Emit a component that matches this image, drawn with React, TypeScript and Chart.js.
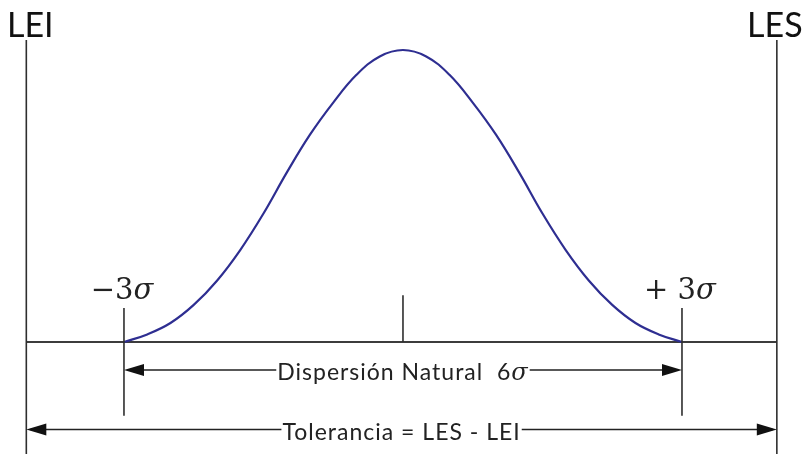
import React, { useEffect, useRef } from 'react';
import { Chart, registerables } from 'chart.js';

Chart.register(...registerables);

// Curve: horizontal position in sigma units, relative height (peak = 1)
const sigmaPositions = [
  -3, -2.75, -2.5, -2.25, -2, -1.75, -1.5, -1.25, -1, -0.75, -0.5, -0.25, 0,
  0.25, 0.5, 0.75, 1, 1.25, 1.5, 1.75, 2, 2.25, 2.5, 2.75, 3,
];
const curveHeights = [
  0, 0.026, 0.065, 0.127, 0.21, 0.315, 0.44, 0.58, 0.71, 0.82, 0.915, 0.978, 1,
  0.978, 0.915, 0.82, 0.71, 0.58, 0.44, 0.315, 0.21, 0.127, 0.065, 0.026, 0,
];

// Specification limits (sigma units)
const limitNames = ['LEI', 'LES'];
const limitPositions = [-4.05, 4.02];

// Sigma marks
const sigmaMarkPositions = [-3, 0, 3];
const sigmaMarkLabels = ['\u22123', '', '+ 3'];
const SIGMA = '\u03c3';

// Dimension labels
const dispersionLabel = 'Dispersi\u00f3n Natural  6';
const toleranceLabel = 'Tolerancia = LES - LEI';

// Vertical levels (relative height units)
const limitTop = 1.034;
const markTop = 0.116;
const markBottom = -0.253;
const centerTop = 0.16;
const dispersionLevel = -0.096;
const toleranceLevel = -0.3;

const SANS = 'Lato, "Open Sans", sans-serif';
const SERIF = '"DejaVu Serif", "Liberation Serif", serif';

const overlayPlugin = {
  id: 'overlay',
  beforeDatasetsDraw(chart: any) {
    const { ctx } = chart;
    const X = (v: number) => chart.scales.x.getPixelForValue(v);
    const Y = (v: number) => chart.scales.y.getPixelForValue(v);
    ctx.save();
    ctx.strokeStyle = '#3c3c3c';
    ctx.lineWidth = 1.8;
    ctx.beginPath();
    ctx.moveTo(X(limitPositions[0]), Y(0));
    ctx.lineTo(X(limitPositions[1]), Y(0));
    ctx.stroke();
    ctx.restore();
  },
  afterDatasetsDraw(chart: any) {
    const { ctx } = chart;
    const X = (v: number) => chart.scales.x.getPixelForValue(v);
    const Y = (v: number) => chart.scales.y.getPixelForValue(v);
    const yMin = chart.scales.y.min;
    ctx.save();
    ctx.strokeStyle = '#2e2e2e';
    ctx.fillStyle = '#111';
    ctx.lineWidth = 1.6;

    const vline = (x: number, y0: number, y1: number) => {
      ctx.beginPath();
      ctx.moveTo(X(x), Y(y0));
      ctx.lineTo(X(x), Y(y1));
      ctx.stroke();
    };

    // Limit lines + labels
    limitPositions.forEach((p, i) => {
      vline(p, yMin, limitTop);
      ctx.font = `34px ${SANS}`;
      ctx.textAlign = 'center';
      ctx.textBaseline = 'alphabetic';
      ctx.fillStyle = '#111';
      ctx.fillText(limitNames[i], X(p) + (i === 0 ? 4 : -2), Y(limitTop) - 3);
    });

    // Sigma marks
    sigmaMarkPositions.forEach((p, i) => {
      if (p === 0) {
        vline(p, 0, centerTop);
      } else {
        vline(p, markBottom, markTop);
      }
      const lbl = sigmaMarkLabels[i];
      if (lbl) {
        ctx.textBaseline = 'alphabetic';
        ctx.textAlign = 'left';
        ctx.font = `29px ${SERIF}`;
        const w1 = ctx.measureText(lbl).width;
        ctx.font = `italic 29px ${SERIF}`;
        const w2 = ctx.measureText(SIGMA).width;
        const cx = X(p) - 2;
        const x0 = cx - (w1 + w2) / 2;
        const by = Y(markTop) - 9;
        ctx.fillStyle = '#222';
        ctx.font = `29px ${SERIF}`;
        ctx.fillText(lbl, x0, by);
        ctx.font = `italic 29px ${SERIF}`;
        ctx.fillText(SIGMA, x0 + w1, by);
      }
    });

    // Dimension arrows
    const arrow = (xa: number, xb: number, level: number, text: string, sigma: boolean) => {
      const y = Y(level);
      const pa = X(xa);
      const pb = X(xb);
      (ctx as any).letterSpacing = '1px';
      ctx.font = `23px ${SANS}`;
      const w1 = ctx.measureText(text).width;
      let w2 = 0;
      if (sigma) {
        ctx.font = `italic 24px ${SERIF}`;
        w2 = ctx.measureText(SIGMA).width;
      }
      const total = w1 + w2;
      const cx = (pa + pb) / 2;
      const tl = cx - total / 2;
      const tr = cx + total / 2;
      ctx.lineWidth = 1.5;
      ctx.strokeStyle = '#222';
      ctx.beginPath();
      ctx.moveTo(pa + 4, y);
      ctx.lineTo(tl - 1, y);
      ctx.moveTo(tr + 1, y);
      ctx.lineTo(pb - 4, y);
      ctx.stroke();
      const L = 20;
      const H = 6;
      ctx.fillStyle = '#111';
      ctx.beginPath();
      ctx.moveTo(pa, y);
      ctx.lineTo(pa + L, y - H);
      ctx.lineTo(pa + L, y + H);
      ctx.closePath();
      ctx.fill();
      ctx.beginPath();
      ctx.moveTo(pb, y);
      ctx.lineTo(pb - L, y - H);
      ctx.lineTo(pb - L, y + H);
      ctx.closePath();
      ctx.fill();
      ctx.fillStyle = '#222';
      ctx.textAlign = 'left';
      ctx.textBaseline = 'alphabetic';
      ctx.font = `23px ${SANS}`;
      ctx.fillText(text, tl, y + 10);
      if (sigma) {
        ctx.font = `italic 24px ${SERIF}`;
        ctx.fillText(SIGMA, tl + w1, y + 10);
      }
      (ctx as any).letterSpacing = '0px';
    };

    arrow(sigmaMarkPositions[0], sigmaMarkPositions[2], dispersionLevel, dispersionLabel, true);
    arrow(limitPositions[0], limitPositions[1], toleranceLevel, toleranceLabel, false);

    ctx.restore();
  },
};

export default function App() {
  const ref = useRef<HTMLCanvasElement | null>(null);

  useEffect(() => {
    if (!ref.current) return;
    const chart = new Chart(ref.current, {
      type: 'line',
      data: {
        datasets: [
          {
            data: sigmaPositions.map((x, i) => ({ x, y: curveHeights[i] })),
            borderColor: 'rgb(46, 46, 145)',
            borderWidth: 2.2,
            pointRadius: 0,
            tension: 0.4,
            fill: false,
          },
        ],
      },
      options: {
        animation: false,
        responsive: false,
        maintainAspectRatio: false,
        layout: { padding: 0 },
        plugins: {
          legend: { display: false },
          tooltip: { enabled: false },
          title: { display: false },
        },
        scales: {
          x: { type: 'linear', display: false, min: -4.333, max: 4.312 },
          y: { type: 'linear', display: false, min: -0.3836, max: 1.1712 },
        },
      },
      plugins: [overlayPlugin],
    });
    return () => chart.destroy();
  }, []);

  return (
    <div style={{ position: 'fixed', left: 0, top: 0, width: 804, height: 454, background: '#fff' }}>
      <canvas ref={ref} width={804} height={454} />
    </div>
  );
}
